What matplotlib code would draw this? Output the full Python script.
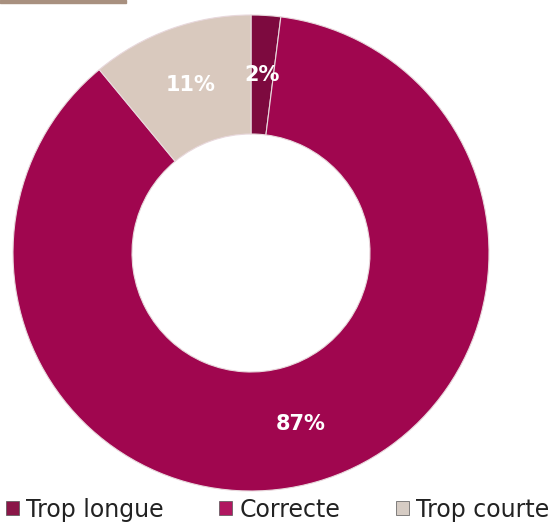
import matplotlib
matplotlib.use("Agg")
import matplotlib.pyplot as plt
from matplotlib.patches import Rectangle

categories = ["Trop longue", "Correcte", "Trop courte"]
values = [2, 87, 11]
colors = ["#7d0a3f", "#a0064f", "#d9c9be"]
legend_colors = ["#8a1648", "#b01760", "#d6ccc4"]

fig = plt.figure(figsize=(5.55, 5.24), dpi=100)
fig.patches.append(Rectangle((0, 1 - 3/524), 126/555, 3/524, transform=fig.transFigure,
                             color="#a8907f", zorder=5))

ax = fig.add_axes([13/555, 33/524, 476/555, 476/524])
wedges, texts, autotexts = ax.pie(
    values, colors=colors, startangle=90, counterclock=False,
    radius=1.0, wedgeprops=dict(width=0.5, edgecolor="#e8d8dc", linewidth=0.8),
    autopct=lambda p: f"{p:.0f}%", pctdistance=0.75,
    textprops=dict(color="white", fontsize=15, fontweight="bold"))
ax.set_xlim(-1, 1)
ax.set_ylim(-1, 1)
ax.set_aspect("equal")
ax.axis("off")

handles = [Rectangle((0, 0), 1, 1, facecolor=c, edgecolor="#555555", linewidth=0.5) for c in legend_colors]
fig.legend(handles, categories, loc="lower center", bbox_to_anchor=(0.5, -0.036), ncol=3,
           frameon=False, fontsize=17, handlelength=0.55, handleheight=0.55,
           handletextpad=0.3, columnspacing=2.35, labelcolor="#222222")

fig.savefig("out.png", dpi=100)
